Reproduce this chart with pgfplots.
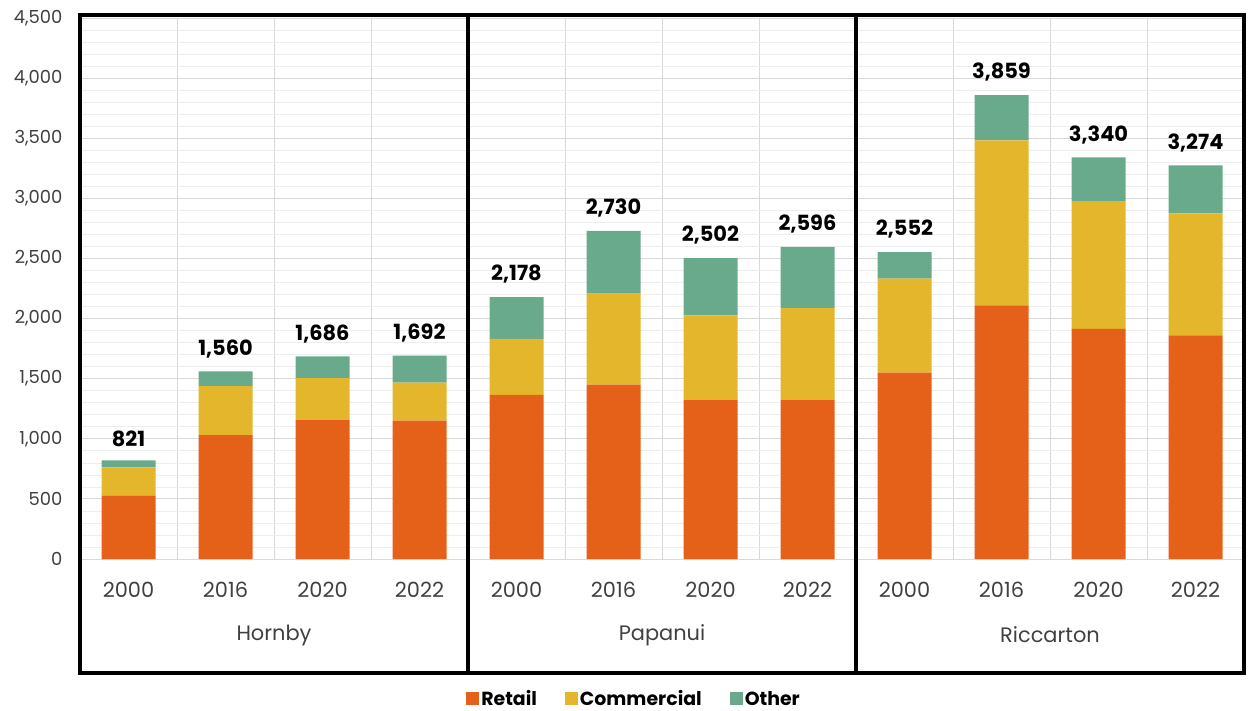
\documentclass[border=0pt]{standalone}
\usepackage{pgfplots}
\usepackage{pgfplotstable}
\pgfplotsset{compat=1.18}
\usepackage{fontspec}
\setmainfont{Poppins}
\definecolor{cRetail}{HTML}{E5611A}
\definecolor{cComm}{HTML}{E4B62C}
\definecolor{cOther}{HTML}{69AA8C}
\definecolor{tickgray}{HTML}{404040}
\pgfplotstableread{
x retail commercial other total
0 525 238 58 821
1 1030 408 122 1560
2 1155 350 181 1686
3 1150 318 224 1692
4 1365 465 348 2178
5 1450 757 523 2730
6 1326 700 476 2502
7 1326 761 509 2596
8 1550 782 220 2552
9 2109 1374 376 3859
10 1915 1062 363 3340
11 1861 1014 399 3274
}\data
\begin{document}
\begin{tikzpicture}
\useasboundingbox (0bp,0bp) rectangle (1250bp,711bp);
\begin{axis}[
  at={(80bp,152bp)}, anchor=south west,
  scale only axis, width=1164bp, height=541bp,
  ybar stacked, bar width=54bp,
  xmin=-0.5, xmax=11.5, ymin=0, ymax=4500,
  ytick={0,500,...,4500}, minor y tick num=4,
  xtick={0,...,11},
  xticklabels={2000,2016,2020,2022,2000,2016,2020,2022,2000,2016,2020,2022},
  minor xtick={0.5,1.5,...,10.5},
  ymajorgrids, yminorgrids, xminorgrids,
  major grid style={draw=black!15, line width=0.8bp},
  minor y grid style={draw=black!7, line width=0.6bp},
  minor x grid style={draw=black!15, line width=0.8bp},
  axis line style={draw=none},
  major tick style={draw=none}, minor tick style={draw=none},
  /pgf/number format/.cd, 1000 sep={,}, assume math mode=true, /pgfplots/.cd,
  yticklabel style={font=\fontsize{18}{20}\selectfont, text=tickgray, xshift=-14bp},
  xticklabel style={font=\fontsize{21}{24}\selectfont, text=tickgray, yshift=-20bp},
  clip=false,
  legend style={at={(0.476,-0.259)}, anchor=center, draw=none, fill=none,
    legend columns=3, font=\bfseries\fontsize{19}{21}\selectfont,
    /tikz/every even column/.append style={column sep=26bp}},
  legend image code/.code={\fill[#1] (-3bp,-6bp) rectangle (10bp,7bp);},
]
\addplot[fill=cRetail, draw=none] table[x=x, y=retail] \data;
\addlegendentry{Retail}
\addplot[fill=cComm, draw=none] table[x=x, y=commercial] \data;
\addlegendentry{Commercial}
\addplot[fill=cOther, draw=none] table[x=x, y=other] \data;
\addlegendentry{Other}
\end{axis}
\begin{axis}[
  at={(80bp,152bp)}, anchor=south west,
  scale only axis, width=1164bp, height=541bp,
  xmin=-0.5, xmax=11.5, ymin=0, ymax=4500,
  hide axis, clip=false,
]
\addplot[draw=none, mark=none, point meta=explicit,
  nodes near coords,
  nodes near coords style={font=\bfseries\fontsize{21}{24}\selectfont, text=black, anchor=south, yshift=10bp,
    /pgf/number format/.cd, fixed, precision=0, 1000 sep={,}, assume math mode=true}]
  table[x=x, y=total, meta=total] \data;
\end{axis}
\begin{scope}[line width=3.5bp, black]
\draw (80bp,38bp) rectangle (468bp,696bp);
\draw (468bp,38bp) rectangle (856bp,696bp);
\draw (856bp,38bp) rectangle (1244bp,696bp);
\end{scope}
\begin{scope}[font=\fontsize{21}{24}\selectfont, text=tickgray]
\node at (274bp,76bp) {Hornby};
\node at (662bp,76bp) {Papanui};
\node at (1050bp,76bp) {Riccarton};
\end{scope}
\end{tikzpicture}
\end{document}
